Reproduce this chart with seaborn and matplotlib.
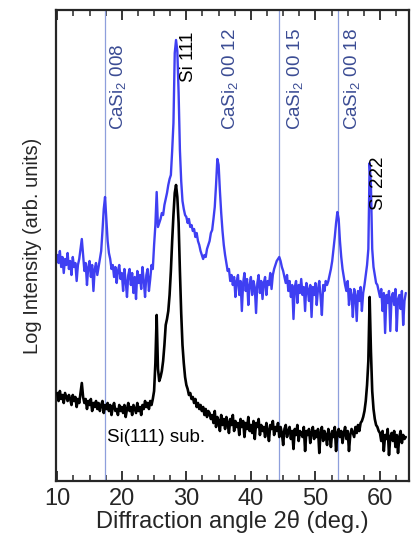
import numpy as np
import pandas as pd
import matplotlib
matplotlib.use("Agg")
import matplotlib.pyplot as plt
from matplotlib.ticker import MultipleLocator
import seaborn as sns

# ---- data (log intensity, arbitrary offset units) ----
two_theta = np.round(np.arange(10.0, 64.01, 0.2), 1)

casi2_film = [
    226, 218, 230, 214, 224, 208, 222, 216, 228, 212,
    220, 206, 224, 214, 218, 200, 216, 222, 232, 242,
    226, 210, 218, 196, 214, 220, 204, 216, 190, 212,
    218, 206, 214, 222, 230, 250, 272, 284, 262, 240,
    228, 222, 212, 216, 204, 214, 198, 210, 216, 202,
    208, 190, 212, 200, 184, 206, 212, 196, 208, 188,
    204, 182, 210, 198, 206, 192, 214, 200, 184, 206,
    212, 190, 202, 216, 212, 236, 256, 289, 254, 258,
    262, 268, 266, 276, 282, 288, 296, 302, 306, 330,
    358, 428, 441, 430, 388, 331, 300, 280, 272, 266,
    264, 258, 262, 254, 256, 250, 252, 244, 248, 240,
    236, 230, 226, 222, 226, 224, 232, 236, 240, 248,
    251, 262, 274, 296, 322, 316, 290, 268, 250, 236,
    226, 218, 210, 212, 200, 206, 196, 204, 184, 200,
    206, 186, 200, 170, 198, 208, 190, 202, 176, 196,
    204, 186, 200, 194, 168, 198, 206, 188, 200, 182,
    198, 204, 186, 200, 196, 208, 192, 206, 212, 216,
    220, 222, 224, 220, 214, 210, 204, 198, 206, 190,
    200, 184, 196, 162, 194, 200, 178, 196, 188, 202,
    186, 194, 170, 198, 192, 180, 196, 164, 194, 186,
    198, 176, 192, 200, 184, 166, 196, 190, 200, 196,
    200, 206, 212, 220, 232, 244, 258, 269, 262, 240,
    224, 212, 204, 196, 190, 200, 176, 192, 186, 164,
    192, 186, 160, 190, 180, 194, 170, 188, 196, 206,
    216, 232, 318, 296, 232, 214, 206, 198, 196, 190,
    184, 192, 170, 188, 148, 186, 178, 190, 150, 184,
    188, 176, 192, 150, 182, 186, 172, 190, 156, 180,
    188,
]

si_substrate = [
    88, 80, 90, 82, 86, 78, 88, 84, 80, 86,
    82, 76, 86, 80, 84, 74, 82, 78, 88, 98,
    84, 78, 82, 72, 80, 76, 82, 70, 78, 74,
    80, 72, 78, 70, 76, 80, 68, 76, 72, 78,
    70, 76, 66, 74, 78, 70, 72, 66, 76, 70,
    74, 68, 76, 64, 72, 78, 70, 74, 66, 76,
    72, 68, 78, 70, 74, 66, 76, 72, 80, 74,
    78, 72, 80, 76, 82, 90, 118, 166, 112, 100,
    104, 110, 120, 136, 156, 162, 170, 186, 210, 240,
    266, 288, 296, 284, 258, 210, 168, 136, 118, 104,
    96, 92, 86, 88, 82, 84, 78, 82, 74, 78,
    72, 76, 70, 74, 66, 72, 64, 70, 68, 62,
    66, 58, 70, 54, 64, 60, 50, 66, 56, 62,
    52, 64, 58, 48, 62, 56, 66, 50, 60, 54,
    58, 46, 62, 54, 60, 44, 58, 52, 64, 50,
    56, 48, 60, 42, 58, 54, 62, 46, 56, 50,
    54, 44, 58, 50, 40, 56, 52, 60, 46, 54,
    50, 58, 44, 54, 48, 36, 52, 56, 44, 50,
    54, 42, 50, 32, 52, 46, 56, 40, 50, 48,
    44, 54, 30, 50, 46, 52, 38, 48, 54, 42,
    50, 44, 52, 28, 48, 54, 40, 50, 46, 36,
    52, 46, 34, 50, 44, 54, 30, 48, 52, 44,
    50, 38, 48, 54, 42, 50, 30, 46, 52, 48,
    44, 54, 48, 56, 50, 58, 60, 64, 70, 80,
    96, 120, 184, 130, 90, 72, 62, 56, 54, 50,
    48, 40, 50, 30, 46, 42, 52, 26, 44, 48,
    40, 50, 34, 46, 28, 44, 50, 38, 46, 42,
    44,
]

ref_positions = [17.35, 44.4, 53.5]
ref_labels = ["CaSi$_2$ 008", "CaSi$_2$ 00 12", "CaSi$_2$ 00 15", "CaSi$_2$ 00 18"]
ref_label_x = [19.4, 36.7, 46.8, 55.6]
si_labels = ["Si 111", "Si 222"]
si_label_x = [30.3, 59.7]
si_label_y = [399, 271]

x_ticks = [10, 20, 30, 40, 50, 60]

# ---- style ----
sns.set_style("ticks")
plt.rcParams["font.family"] = ["Liberation Sans", "DejaVu Sans"]
plt.rcParams["mathtext.fontset"] = "custom"
plt.rcParams["mathtext.rm"] = "Liberation Sans"
plt.rcParams["mathtext.it"] = "Liberation Sans:italic"

fig = plt.figure(figsize=(4.11, 5.48), dpi=100)
ax = fig.add_axes([56 / 411, 67 / 548, (409 - 56) / 411, (538 - 67) / 548])

df = pd.DataFrame({"two_theta": np.concatenate([two_theta, two_theta]),
                   "intensity": casi2_film + si_substrate,
                   "sample": ["film"] * len(two_theta) + ["sub"] * len(two_theta)})

for xv in ref_positions:
    ax.axvline(xv, color="#8e9fdc", lw=0.9, zorder=1)

sns.lineplot(data=df[df["sample"] == "film"], x="two_theta", y="intensity",
             color="#3f3ff2", lw=1.7, ax=ax, zorder=2)
sns.lineplot(data=df[df["sample"] == "sub"], x="two_theta", y="intensity",
             color="black", lw=1.9, ax=ax, zorder=3)

ax.set_xlim(9.8, 64.5)
ax.set_ylim(0, 471)
ax.set_yticks([])
ax.xaxis.set_major_locator(MultipleLocator(10))
ax.xaxis.set_minor_locator(MultipleLocator(2.5))
ax.set_xticks(x_ticks)
ax.tick_params(axis="x", which="major", direction="in", length=7, width=1.3,
               top=True, labelsize=17, pad=5)
ax.tick_params(axis="x", which="minor", direction="in", length=4.5, width=1.1,
               top=True)
for s in ax.spines.values():
    s.set_linewidth(1.6)
    s.set_visible(True)

ax.set_xlabel("Diffraction angle 2θ (deg.)", fontsize=17, labelpad=0)
ax.set_ylabel("Log Intensity (arb. units)", fontsize=14.5, labelpad=10)

for lx, lab in zip(ref_label_x, ref_labels):
    ax.text(lx, 351, lab, rotation=90, ha="center", va="bottom",
            fontsize=13.5, color="#3b4c94")
for lx, ly, lab in zip(si_label_x, si_label_y, si_labels):
    ax.text(lx, ly, lab, rotation=90, ha="center", va="bottom",
            fontsize=13.5, color="black")
ax.text(17.7, 44, "Si(111) sub.", ha="left", va="center", fontsize=13.5, color="black")

fig.savefig("out.png", dpi=100)
